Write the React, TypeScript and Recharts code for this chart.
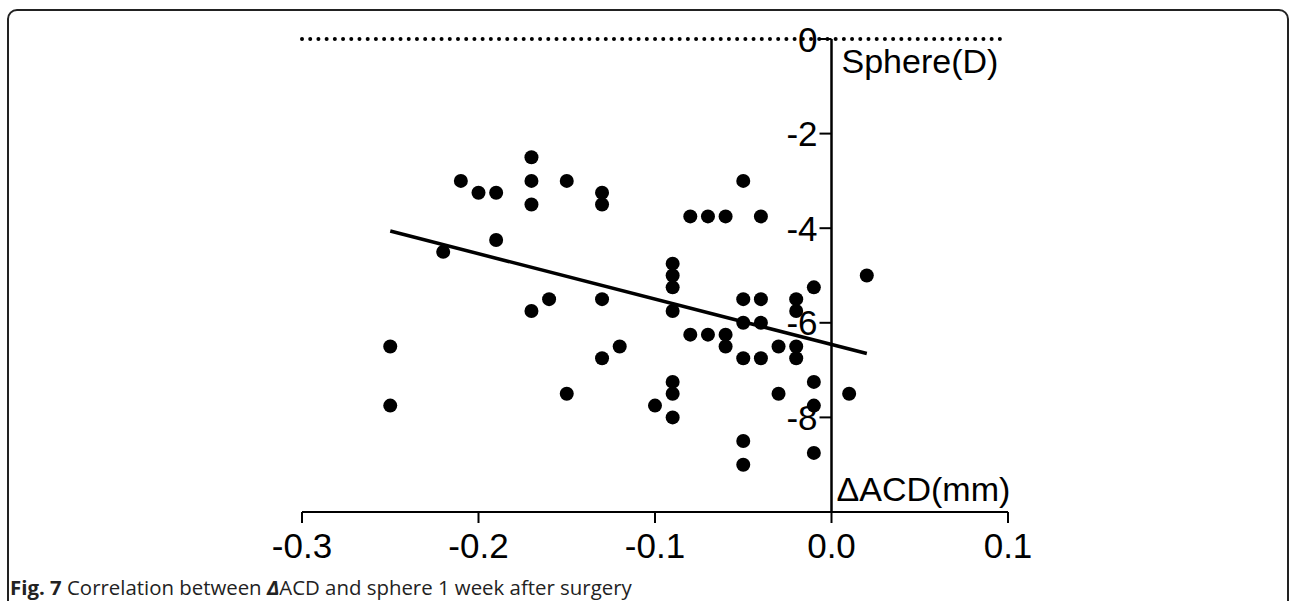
import React from 'react'
import {
  ScatterChart,
  Scatter,
  XAxis,
  YAxis,
  ReferenceLine,
} from 'recharts'

// ΔACD (mm) vs sphere (D), one entry per patient
const deltaAcd = [
  -0.25, -0.25, -0.22, -0.21, -0.2, -0.19, -0.19, -0.17, -0.17, -0.17, -0.17,
  -0.16, -0.15, -0.15, -0.13, -0.13, -0.13, -0.13, -0.12, -0.1, -0.09, -0.09,
  -0.09, -0.09, -0.09, -0.09, -0.09, -0.08, -0.08, -0.07, -0.07, -0.06, -0.06,
  -0.06, -0.05, -0.05, -0.05, -0.05, -0.05, -0.05, -0.04, -0.04, -0.04, -0.04,
  -0.03, -0.03, -0.02, -0.02, -0.02, -0.02, -0.01, -0.01, -0.01, -0.01, 0.01,
  0.02,
]
const sphere = [
  -6.5, -7.75, -4.5, -3.0, -3.25, -3.25, -4.25, -2.5, -3.0, -3.5, -5.75, -5.5,
  -3.0, -7.5, -3.25, -3.5, -5.5, -6.75, -6.5, -7.75, -4.75, -5.0, -5.25, -5.75,
  -7.25, -7.5, -8.0, -3.75, -6.25, -3.75, -6.25, -3.75, -6.25, -6.5, -3.0,
  -5.5, -6.0, -6.75, -8.5, -9.0, -3.75, -5.5, -6.0, -6.75, -6.5, -7.5, -5.5,
  -5.75, -6.5, -6.75, -5.25, -7.25, -7.75, -8.75, -7.5, -5.0,
]

// regression line end points
const fitX = [-0.25, 0.02]
const fitY = [-4.06, -6.65]

const X_TICKS = [-0.3, -0.2, -0.1, 0, 0.1]
const Y_TICKS = [0, -2, -4, -6, -8]
const X_DOMAIN: [number, number] = [-0.3, 0.1]
const Y_DOMAIN: [number, number] = [-10, 0]

const points = deltaAcd.map((x, i) => ({ x, y: sphere[i] }))
const fitLine = fitX.map((x, i) => ({ x, y: fitY[i] }))

const CHART_W = 1290
const CHART_H = 601
const Y_AXIS_W = 2
const MARGIN = { top: 39, right: 282, bottom: 29, left: 302 - Y_AXIS_W }
const PLOT_LEFT = MARGIN.left + Y_AXIS_W
const PLOT_W = CHART_W - PLOT_LEFT - MARGIN.right
// pixel position of x = 0, where the y axis crosses
const ZERO_X =
  PLOT_LEFT + ((0 - X_DOMAIN[0]) / (X_DOMAIN[1] - X_DOMAIN[0])) * PLOT_W

const FONT = '"Liberation Sans", Arial, Helvetica, sans-serif'

function YTick(props: any) {
  const { y, payload } = props
  return (
    <g>
      <line x1={ZERO_X - 12} x2={ZERO_X} y1={y} y2={y} stroke="#000" strokeWidth={2} />
      <text
        x={ZERO_X - 14}
        y={y}
        dy="0.36em"
        textAnchor="end"
        fontSize={35}
        fontFamily={FONT}
        fill="#000"
      >
        {payload.value}
      </text>
    </g>
  )
}

function AxisTitles({ viewBox }: any) {
  const { x, y, height } = viewBox
  return (
    <g fontFamily={FONT} fontSize={34} fill="#000">
      <text x={x + 10} y={y + 34}>
        Sphere(D)
      </text>
      <text x={x + 5} y={y + height - 11}>
        ΔACD(mm)
      </text>
    </g>
  )
}

const Dot = (props: any) => <circle cx={props.cx} cy={props.cy} r={7} fill="#000" />

export default function App() {
  return (
    <div style={{ position: 'absolute', left: 0, top: 0, width: CHART_W, height: CHART_H, background: '#fff', overflow: 'hidden' }}>
      <div
        style={{
          position: 'absolute',
          left: 7,
          top: 9,
          width: 1282,
          height: 640,
          border: '2px solid #222',
          borderRadius: 10,
          boxSizing: 'border-box',
        }}
      />
      <ScatterChart width={CHART_W} height={CHART_H} margin={MARGIN}>
        <XAxis
          type="number"
          dataKey="x"
          domain={X_DOMAIN}
          ticks={X_TICKS}
          interval={0}
          allowDataOverflow
          tickFormatter={(v: number) => v.toFixed(1)}
          height={60}
          tickSize={11}
          tickMargin={10}
          axisLine={{ stroke: '#000', strokeWidth: 2 }}
          tickLine={{ stroke: '#000', strokeWidth: 2 }}
          tick={{ fontSize: 35, fill: '#000', fontFamily: FONT }}
        />
        <YAxis
          type="number"
          dataKey="y"
          domain={Y_DOMAIN}
          ticks={Y_TICKS}
          interval={0}
          allowDataOverflow
          width={Y_AXIS_W}
          axisLine={false}
          tickLine={false}
          tick={(p: any) => <YTick {...p} />}
        />
        <ReferenceLine
          y={0}
          stroke="#000"
          strokeWidth={4}
          strokeLinecap="round"
          strokeDasharray="0.01 8.2"
        />
        <ReferenceLine x={0} stroke="#000" strokeWidth={2.5} label={<AxisTitles />} />
        <Scatter data={points} fill="#000" shape={<Dot />} isAnimationActive={false} />
        <Scatter
          data={fitLine}
          line={{ stroke: '#000', strokeWidth: 3.5 }}
          lineType="joint"
          shape={() => <g />}
          isAnimationActive={false}
        />
      </ScatterChart>
      <div
        style={{
          position: 'absolute',
          left: 10,
          top: 573,
          fontFamily: '"Open Sans", sans-serif',
          fontSize: 20.4,
          color: '#222',
          whiteSpace: 'nowrap',
        }}
      >
        <b>Fig. 7</b> Correlation between <b>
          <i>Δ</i>
        </b>ACD and sphere 1 week after surgery
      </div>
    </div>
  )
}
